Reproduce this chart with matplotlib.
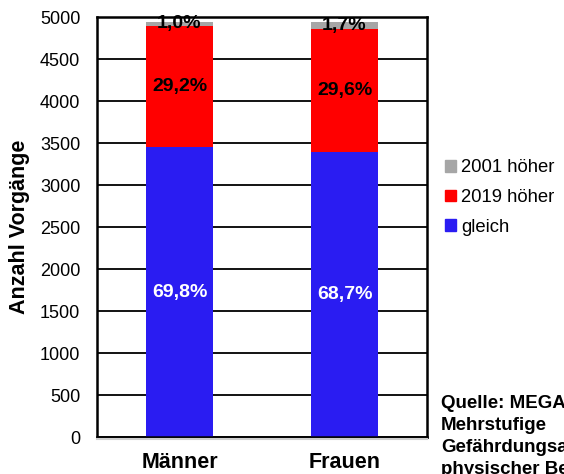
import matplotlib
matplotlib.use("Agg")
import matplotlib.pyplot as plt
from matplotlib.patches import Patch
from matplotlib.lines import Line2D

plt.rcParams['font.family'] = ['Liberation Sans', 'DejaVu Sans']

# Data
categories = ["Männer", "Frauen"]
totals = [4950, 4950]
pct_gleich = [69.8, 68.7]
pct_2019 = [29.2, 29.6]
pct_2001 = [1.0, 1.7]
series_names = ["2001 höher", "2019 höher", "gleich"]
yticks = [0, 500, 1000, 1500, 2000, 2500, 3000, 3500, 4000, 4500, 5000]

col_gleich = "#2a1cf2"
col_2019 = "#ff0000"
col_2001 = "#a6a6a6"

def fmt(p):
    return f"{p:.1f}".replace(".", ",") + "%"

fig = plt.figure(figsize=(5.64, 4.74), dpi=100)
ax = fig.add_axes([97 / 564, 37 / 474, 330 / 564, 419.5 / 474])

x = list(range(len(categories)))
v_gleich = [t * p / 100 for t, p in zip(totals, pct_gleich)]
v_2019 = [t * p / 100 for t, p in zip(totals, pct_2019)]
v_2001 = [t * p / 100 for t, p in zip(totals, pct_2001)]
base2 = [a + b for a, b in zip(v_gleich, v_2019)]

w = 0.41
ax.bar(x, v_gleich, w, color=col_gleich, zorder=3)
ax.bar(x, v_2019, w, bottom=v_gleich, color=col_2019, zorder=3)
ax.bar(x, v_2001, w, bottom=base2, color=col_2001, zorder=3)

for i in x:
    ax.text(i, v_gleich[i] / 2, fmt(pct_gleich[i]), ha="center", va="center",
            color="white", fontsize=14, fontweight="bold", zorder=4)
    ax.text(i, v_gleich[i] + v_2019[i] / 2, fmt(pct_2019[i]), ha="center",
            va="center", color="black", fontsize=14, fontweight="bold", zorder=4)
    ax.text(i, base2[i] + v_2001[i] / 2, fmt(pct_2001[i]), ha="center",
            va="center", color="black", fontsize=14, fontweight="bold", zorder=4)

ax.set_xlim(-0.5, 1.5)
ax.set_ylim(0, 5000)
ax.set_yticks(yticks)
ax.set_yticklabels([str(t) for t in yticks], fontsize=13)
ax.set_xticks(x)
ax.set_xticklabels(categories, fontsize=15.5, fontweight="bold")
ax.tick_params(axis="both", length=0)
ax.tick_params(axis="y", pad=12)
ax.tick_params(axis="x", pad=11)
ax.yaxis.grid(True, color="black", linewidth=1.3, zorder=1)
ax.set_axisbelow(True)
for s in ax.spines.values():
    s.set_color("black")
    s.set_linewidth(1.8)
    s.set_zorder(5)

ax.set_ylabel("Anzahl Vorgänge", fontsize=15.5, fontweight="bold", labelpad=7)

# soft shadow under the bottom frame line
fig.add_artist(Line2D([97 / 564, 427 / 564], [35 / 474, 35 / 474],
                      color="#cfcfcf", linewidth=1.5, transform=fig.transFigure))

handles = [Patch(color=col_2001), Patch(color=col_2019), Patch(color=col_gleich)]
fig.legend(handles, series_names, loc="upper left",
           bbox_to_anchor=(438 / 564, 1 - 152 / 474), frameon=False,
           fontsize=13.3, handlelength=0.6, handleheight=0.6,
           handletextpad=0.25, labelspacing=0.68, borderaxespad=0)

fig.text(441 / 564, 1 - 395 / 474,
         "Quelle: MEGAPHYS –\nMehrstufige\nGefährdungsanalyse\nphysischer Belastungen",
         ha="left", va="top", fontsize=13.5, fontweight="bold",
         linespacing=1.38)

fig.savefig("out.png", dpi=100)
